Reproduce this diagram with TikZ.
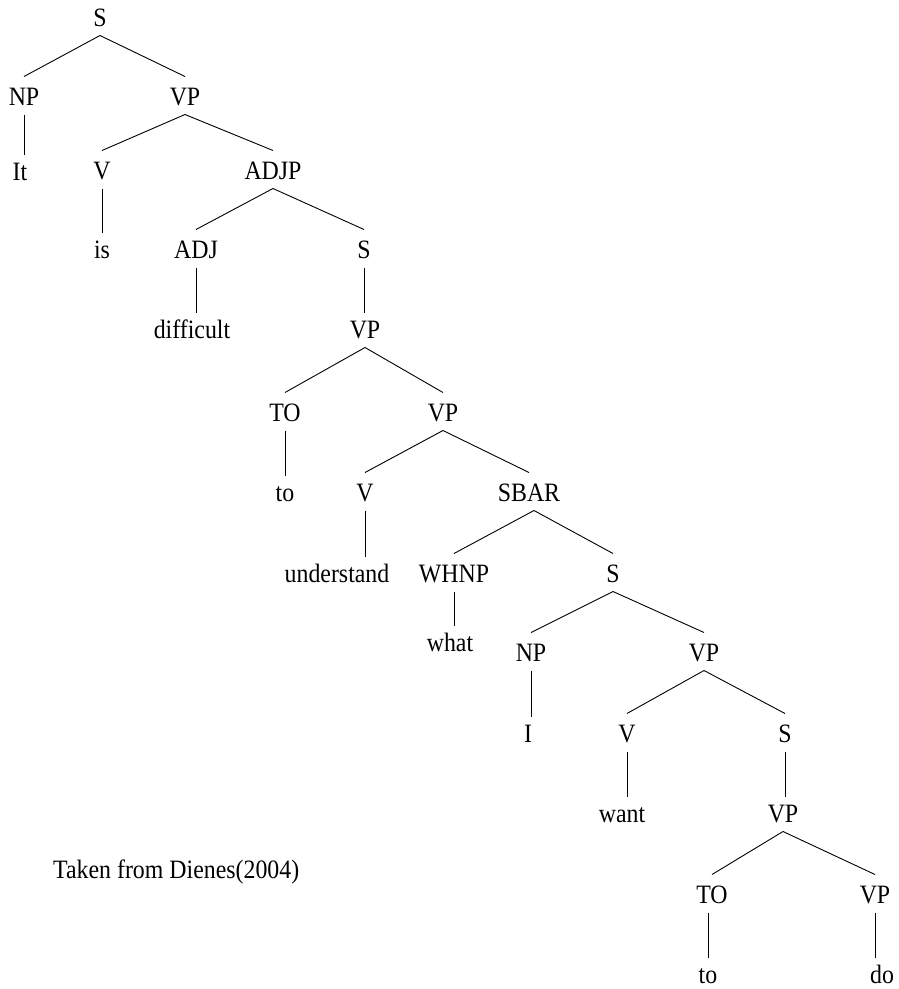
\documentclass[tikz,border=0pt]{standalone}
\usepackage{fontspec}
\setmainfont[FakeStretch=0.9]{Liberation Serif}
\begin{document}
\begin{tikzpicture}[x=1pt,y=-1pt,
  lbl/.style={inner sep=0pt, outer xsep=0pt, outer ysep=9pt, text height=17pt, text depth=0pt, font=\fontsize{26.5}{30}\selectfont},
  edge/.style={line width=0.9pt, black}]
\useasboundingbox[fill=white] (0,0) rectangle (899,989);
% nodes
\node[lbl] (s0) at (100,18) {S};
\node[lbl] (np1) at (24,97) {NP};
\node[lbl] (vp1) at (185,97) {VP};
\node[lbl] (it) at (20,172) {It};
\node[lbl] (v2) at (102,171) {V};
\node[lbl] (adjp2) at (273,171) {ADJP};
\node[lbl] (is) at (102,250) {is};
\node[lbl] (adj3) at (196,250) {ADJ};
\node[lbl] (s3) at (364,250) {S};
\node[lbl] (diff) at (192,330) {difficult};
\node[lbl] (vp4) at (365,330) {VP};
\node[lbl] (to5) at (285,413) {TO};
\node[lbl] (vp5) at (443,413) {VP};
\node[lbl] (to6) at (285,493) {to};
\node[lbl] (v6) at (365,493) {V};
\node[lbl] (sbar6) at (529,493) {SBAR};
\node[lbl] (und) at (337,574) {understand};
\node[lbl] (whnp7) at (454,574) {WHNP};
\node[lbl] (s7) at (613,574) {S};
\node[lbl] (what) at (450,643) {what};
\node[lbl] (np8) at (531,653) {NP};
\node[lbl] (vp8) at (704,653) {VP};
\node[lbl] (i9) at (528,734) {I};
\node[lbl] (v9) at (627,734) {V};
\node[lbl] (s9) at (785,734) {S};
\node[lbl] (want) at (622,814) {want};
\node[lbl] (vp10) at (783,814) {VP};
\node[lbl] (to11) at (712,895) {TO};
\node[lbl] (vp11) at (875,895) {VP};
\node[lbl] (to12) at (708,975) {to};
\node[lbl] (do12) at (882,975) {do};
\node[inner sep=0pt, anchor=west, font=\fontsize{26.5}{30}\selectfont] (src) at (53,872) {Taken from Dienes(2004)};
% diagonal edges
\draw[edge] (s0.south) -- ([yshift=3pt]np1.north);
\draw[edge] (s0.south) -- ([yshift=3pt]vp1.north);
\draw[edge] (vp1.south) -- ([yshift=3pt]v2.north);
\draw[edge] (vp1.south) -- ([yshift=3pt]adjp2.north);
\draw[edge] (adjp2.south) -- ([yshift=3pt]adj3.north);
\draw[edge] (adjp2.south) -- ([yshift=3pt]s3.north);
\draw[edge] (vp4.south) -- ([yshift=3pt]to5.north);
\draw[edge] (vp4.south) -- ([yshift=3pt]vp5.north);
\draw[edge] (vp5.south) -- ([yshift=3pt]v6.north);
\draw[edge] (vp5.south) -- ([yshift=3pt]sbar6.north);
\draw[edge] ([xshift=5pt]sbar6.south) -- ([yshift=3pt]whnp7.north);
\draw[edge] ([xshift=5pt]sbar6.south) -- ([yshift=3pt]s7.north);
\draw[edge] (s7.south) -- ([yshift=3pt]np8.north);
\draw[edge] (s7.south) -- ([yshift=3pt]vp8.north);
\draw[edge] (vp8.south) -- ([yshift=3pt]v9.north);
\draw[edge] (vp8.south) -- ([yshift=3pt]s9.north);
\draw[edge] (vp10.south) -- ([yshift=3pt]to11.north);
\draw[edge] (vp10.south) -- ([yshift=3pt]vp11.north);
% vertical edges
\draw[edge] (np1.south) -- (np1.south |- it.north);
\draw[edge] (v2.south) -- (v2.south |- is.north);
\draw[edge] (adj3.south) -- (adj3.south |- diff.north);
\draw[edge] (s3.south) -- (s3.south |- vp4.north);
\draw[edge] (to5.south) -- (to5.south |- to6.north);
\draw[edge] (v6.south) -- (v6.south |- und.north);
\draw[edge] (whnp7.south) -- (whnp7.south |- what.north);
\draw[edge] (np8.south) -- (np8.south |- i9.north);
\draw[edge] (v9.south) -- (v9.south |- want.north);
\draw[edge] (s9.south) -- (s9.south |- vp10.north);
\draw[edge] (to12.north |- to11.south) -- (to12.north);
\draw[edge] (vp11.south) -- (vp11.south |- do12.north);
\end{tikzpicture}
\end{document}
